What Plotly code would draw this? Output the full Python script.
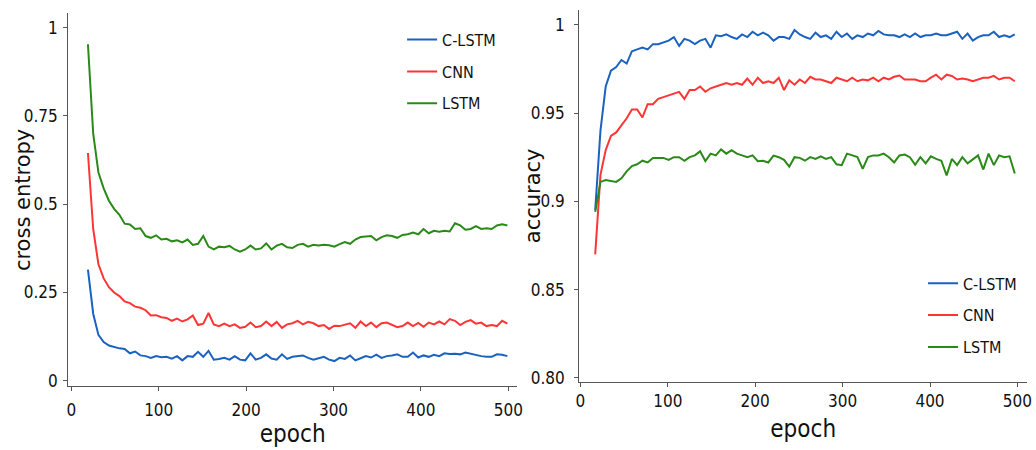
import plotly.graph_objects as go

# ---------------- data ----------------
loss_epochs = list(range(19, 500, 6))
acc_epochs = list(range(17, 498, 6))

loss_clstm = [0.315, 0.19, 0.13, 0.11, 0.10, 0.095, 0.092, 0.09, 0.078, 0.083,
              0.072, 0.07, 0.065, 0.07, 0.067, 0.068, 0.063, 0.07, 0.058, 0.07,
              0.068, 0.082, 0.068, 0.085, 0.06, 0.062, 0.065, 0.06, 0.07, 0.06,
              0.058, 0.078, 0.06, 0.065, 0.075, 0.063, 0.06, 0.075, 0.062, 0.068,
              0.07, 0.072, 0.065, 0.06, 0.064, 0.068, 0.06, 0.056, 0.065, 0.062,
              0.072, 0.058, 0.064, 0.07, 0.066, 0.074, 0.065, 0.07, 0.072, 0.075,
              0.068, 0.068, 0.08, 0.066, 0.072, 0.068, 0.074, 0.07, 0.078, 0.076,
              0.077, 0.075, 0.08, 0.076, 0.073, 0.07, 0.068, 0.068, 0.075, 0.074,
              0.07]
loss_cnn = [0.645, 0.43, 0.33, 0.29, 0.265, 0.25, 0.24, 0.225, 0.22, 0.21,
            0.207, 0.2, 0.185, 0.186, 0.18, 0.178, 0.17, 0.176, 0.168, 0.174,
            0.185, 0.158, 0.162, 0.192, 0.16, 0.155, 0.162, 0.155, 0.16, 0.15,
            0.153, 0.165, 0.152, 0.155, 0.168, 0.155, 0.167, 0.15, 0.16, 0.163,
            0.17, 0.16, 0.167, 0.163, 0.155, 0.158, 0.147, 0.156, 0.155, 0.16,
            0.163, 0.15, 0.168, 0.155, 0.165, 0.152, 0.163, 0.165, 0.158, 0.152,
            0.155, 0.165, 0.155, 0.164, 0.153, 0.165, 0.16, 0.168, 0.16, 0.175,
            0.17, 0.158, 0.167, 0.172, 0.162, 0.165, 0.155, 0.158, 0.155, 0.17,
            0.162]
loss_lstm = [0.953, 0.70, 0.59, 0.545, 0.51, 0.487, 0.47, 0.445, 0.443, 0.43,
             0.432, 0.41, 0.405, 0.412, 0.40, 0.402, 0.395, 0.398, 0.392, 0.40,
             0.385, 0.388, 0.41, 0.38, 0.372, 0.38, 0.378, 0.382, 0.372, 0.366,
             0.372, 0.383, 0.372, 0.375, 0.389, 0.372, 0.383, 0.388, 0.378, 0.376,
             0.385, 0.388, 0.38, 0.385, 0.383, 0.385, 0.384, 0.38, 0.387, 0.393,
             0.388, 0.40, 0.407, 0.408, 0.41, 0.398, 0.407, 0.412, 0.41, 0.405,
             0.413, 0.415, 0.42, 0.415, 0.43, 0.418, 0.425, 0.422, 0.425, 0.423,
             0.446, 0.44, 0.428, 0.43, 0.438, 0.43, 0.432, 0.43, 0.44, 0.443,
             0.44]

acc_clstm = [0.895, 0.94, 0.965, 0.974, 0.976, 0.980, 0.978, 0.985, 0.986, 0.987,
             0.986, 0.989, 0.989, 0.990, 0.991, 0.993, 0.988, 0.992, 0.991, 0.989,
             0.991, 0.992, 0.987, 0.994, 0.9935, 0.9945, 0.993, 0.992, 0.9945, 0.993,
             0.996, 0.994, 0.9955, 0.994, 0.991, 0.993, 0.993, 0.992, 0.997, 0.9945,
             0.993, 0.992, 0.9955, 0.993, 0.994, 0.992, 0.996, 0.993, 0.995, 0.992,
             0.994, 0.993, 0.995, 0.994, 0.9965, 0.9945, 0.994, 0.994, 0.993, 0.9945,
             0.993, 0.995, 0.993, 0.994, 0.994, 0.995, 0.994, 0.994, 0.995, 0.996,
             0.992, 0.995, 0.991, 0.993, 0.994, 0.994, 0.996, 0.993, 0.994, 0.993,
             0.9945]
acc_cnn = [0.870, 0.915, 0.929, 0.937, 0.939, 0.943, 0.947, 0.952, 0.952, 0.9475,
           0.955, 0.955, 0.958, 0.959, 0.960, 0.961, 0.962, 0.958, 0.963, 0.963,
           0.965, 0.962, 0.964, 0.965, 0.966, 0.967, 0.966, 0.967, 0.966, 0.9695,
           0.966, 0.970, 0.967, 0.968, 0.967, 0.970, 0.963, 0.9685, 0.966, 0.969,
           0.967, 0.9705, 0.969, 0.969, 0.968, 0.967, 0.970, 0.969, 0.968, 0.970,
           0.968, 0.969, 0.9685, 0.970, 0.968, 0.970, 0.969, 0.9705, 0.9712, 0.969,
           0.969, 0.969, 0.968, 0.968, 0.970, 0.9717, 0.969, 0.9717, 0.971, 0.969,
           0.9695, 0.969, 0.968, 0.969, 0.970, 0.970, 0.971, 0.969, 0.970, 0.970,
           0.968]
acc_lstm = [0.894, 0.911, 0.912, 0.9115, 0.911, 0.913, 0.917, 0.920, 0.921, 0.923,
            0.922, 0.9246, 0.9246, 0.9246, 0.9235, 0.925, 0.925, 0.923, 0.925, 0.926,
            0.9283, 0.9228, 0.927, 0.926, 0.9294, 0.927, 0.929, 0.927, 0.926, 0.925,
            0.926, 0.9227, 0.923, 0.922, 0.9259, 0.925, 0.9235, 0.9196, 0.925, 0.9246,
            0.923, 0.925, 0.924, 0.9255, 0.924, 0.925, 0.921, 0.9205, 0.927, 0.926,
            0.925, 0.9184, 0.925, 0.926, 0.926, 0.927, 0.925, 0.922, 0.926, 0.9265,
            0.925, 0.9207, 0.925, 0.9215, 0.9255, 0.924, 0.923, 0.9147, 0.924, 0.9205,
            0.925, 0.9215, 0.924, 0.926, 0.918, 0.927, 0.9205, 0.926, 0.925, 0.9255,
            0.9158]

series_names = ["C-LSTM", "CNN", "LSTM"]
colors = ["#1a62c0", "#ff3535", "#2a8a18"]

loss_ticks = [0, 0.25, 0.5, 0.75, 1]
loss_ticktext = ["0", "0.25", "0.5", "0.75", "1"]
acc_ticks = [0.80, 0.85, 0.90, 0.95, 1.0]
acc_ticktext = ["0.80", "0.85", "0.9", "0.95", "1"]
epoch_ticks = [0, 100, 200, 300, 400, 500]

# ---------------- figure ----------------
NARROW = "Liberation Sans Narrow, DejaVu Sans Condensed, Arial Narrow, Roboto, sans-serif"
WIDE = "DejaVu Sans, Verdana, sans-serif"
W, H = 1036, 450

fig = go.Figure()
for name, col, ys, grp in zip(series_names, colors, [loss_clstm, loss_cnn, loss_lstm], ["a", "b", "c"]):
    fig.add_trace(go.Scatter(x=loss_epochs, y=ys, mode="lines", name=name,
                             line=dict(color=col, width=2), xaxis="x", yaxis="y",
                             legend="legend", legendgroup=grp))
for name, col, ys, grp in zip(series_names, colors, [acc_clstm, acc_cnn, acc_lstm], ["d", "e", "f"]):
    fig.add_trace(go.Scatter(x=acc_epochs, y=ys, mode="lines", name=name,
                             line=dict(color=col, width=2), xaxis="x2", yaxis="y2",
                             legend="legend2", legendgroup=grp))

axis_common = dict(showgrid=False, zeroline=False, showline=True, linecolor="#555555",
                   linewidth=1.3, ticks="outside", ticklen=4, tickcolor="#555555",
                   tickfont=dict(family=NARROW, size=17, color="#111111"))

fig.update_layout(
    width=W, height=H,
    margin=dict(l=0, r=0, t=0, b=0),
    paper_bgcolor="white", plot_bgcolor="white",
    xaxis=dict(domain=[65/W, 518/W], range=[-3.4, 510], tickvals=epoch_ticks,
               anchor="y", ticklabelstandoff=5,
               title=dict(text="epoch", font=dict(family=NARROW, size=24, color="#111111"), standoff=3),
               **axis_common),
    yaxis=dict(domain=[1 - 391/H, 1 - 13/H], range=[-0.014, 1.042],
               tickvals=loss_ticks, ticktext=loss_ticktext, anchor="x", ticklabelstandoff=2,
               **axis_common),
    xaxis2=dict(domain=[581/W, 1033/W], range=[-1.1, 511], tickvals=epoch_ticks,
                anchor="y2", ticklabelstandoff=0,
                title=dict(text="epoch", font=dict(family=NARROW, size=24, color="#111111"), standoff=9),
                **axis_common),
    yaxis2=dict(domain=[1 - 387/H, 1 - 10/H], range=[0.7978, 1.0084],
                tickvals=acc_ticks, ticktext=acc_ticktext, anchor="x2", ticklabelstandoff=6,
                **axis_common),
    legend=dict(x=402/W, y=1 - 23/H, xanchor="left", yanchor="top",
                bgcolor="rgba(0,0,0,0)", borderwidth=0, tracegroupgap=8,
                traceorder="grouped",
                font=dict(family=NARROW, size=16, color="#111111")),
    legend2=dict(x=928/W, y=1 - 270/H, xanchor="left", yanchor="top",
                 bgcolor="rgba(0,0,0,0)", borderwidth=0, tracegroupgap=8,
                 traceorder="grouped",
                 font=dict(family=NARROW, size=16, color="#111111")),
    showlegend=True,
    annotations=[
        dict(text="cross entropy", x=19/W, y=1 - 203/H, xref="paper", yref="paper",
             xanchor="center", yanchor="middle", textangle=-90, showarrow=False,
             font=dict(family=WIDE, size=21, color="#111111")),
        dict(text="accuracy", x=535/W, y=1 - 198/H, xref="paper", yref="paper",
             xanchor="center", yanchor="middle", textangle=-90, showarrow=False,
             font=dict(family=WIDE, size=21, color="#111111")),
    ],
)

fig.write_html("out.html")
